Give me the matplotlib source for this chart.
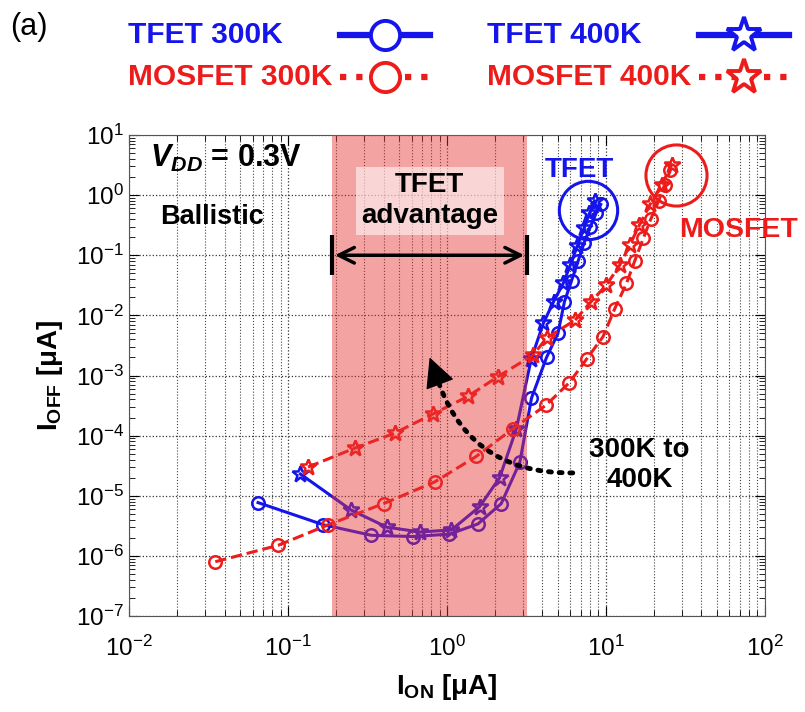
import matplotlib
matplotlib.use('Agg')
import matplotlib.pyplot as plt
from matplotlib.lines import Line2D

# 字体设置：Arial 风格
plt.rcParams['font.family'] = ['Liberation Sans', 'DejaVu Sans']
plt.rcParams['mathtext.fontset'] = 'custom'
plt.rcParams['mathtext.rm'] = 'Liberation Sans'
plt.rcParams['mathtext.it'] = 'Liberation Sans:italic'
plt.rcParams['mathtext.bf'] = 'Liberation Sans:bold'
plt.rcParams['mathtext.bfit'] = 'Liberation Sans:italic:bold'

# 数据 (I_ON [uA], I_OFF [uA])
tfet300_ion = [0.065, 0.167, 0.336, 0.61, 1.04, 1.57, 2.2, 2.88, 3.41, 4.24, 5.0, 5.5,
               6.1, 6.7, 7.3, 8.0, 8.7, 9.3]
tfet300_ioff = [7.7e-6, 3.3e-6, 2.2e-6, 2.1e-6, 2.3e-6, 3.4e-6, 7.4e-6, 3.6e-5, 4.2e-4,
                2.0e-3, 5.0e-3, 1.7e-2, 3.8e-2, 8e-2, 0.16, 0.3, 0.5, 0.7]

tfet400_ion = [0.12, 0.25, 0.42, 0.68, 1.07, 1.61, 2.15, 2.74, 3.4, 4.05, 4.7, 5.4,
               6.0, 6.6, 7.3, 7.9, 8.5]
tfet400_ioff = [2.3e-5, 5.8e-6, 3.0e-6, 2.5e-6, 2.7e-6, 6.6e-6, 2.0e-5, 1.3e-4, 1.9e-3,
                7.4e-3, 1.7e-2, 3.4e-2, 7e-2, 0.14, 0.28, 0.5, 0.8]

mos300_ion = [0.035, 0.087, 0.18, 0.40, 0.84, 1.53, 2.6, 4.2, 5.9, 7.6, 9.6, 11.4,
              13.5, 15.2, 17.2, 19.2, 21.5, 23.5, 25.5]
mos300_ioff = [8e-7, 1.5e-6, 3.3e-6, 7.4e-6, 1.7e-5, 4.5e-5, 1.3e-4, 3.2e-4, 7.6e-4,
               1.9e-3, 4.4e-3, 1.3e-2, 3.4e-2, 8e-2, 0.19, 0.4, 0.8, 1.5, 2.6]

mos400_ion = [0.134, 0.264, 0.47, 0.82, 1.36, 2.1, 3.5, 4.24, 6.4, 8.1, 10.1, 12.3,
              14.2, 16.3, 19.0, 22.5, 26.0]
mos400_ioff = [3.0e-5, 6.2e-5, 1.1e-4, 2.3e-4, 4.5e-4, 9.6e-4, 2.2e-3, 4.2e-3, 8.3e-3,
               1.7e-2, 3.2e-2, 7e-2, 0.15, 0.32, 0.7, 1.5, 3.2]

# TFET 优势区间
adv_lo, adv_hi = 0.19, 3.2

BLUE = '#1414eb'
RED = '#ee1b1b'

fig = plt.figure(figsize=(8.05, 7.12), dpi=100)
ax = fig.add_axes([0.160, 0.1348, 0.790, 0.6756])

lw, ms, mew = 2.2, 9, 1.8
ax.plot(tfet300_ion, tfet300_ioff, '-', color=BLUE, lw=lw, marker='o', ms=ms,
        mfc='none', mew=mew, zorder=3)
ax.plot(tfet400_ion, tfet400_ioff, '-', color=BLUE, lw=lw, marker='*', ms=ms + 3,
        mfc='none', mew=mew, zorder=3)
ax.plot(mos300_ion, mos300_ioff, '--', color=RED, lw=lw, marker='o', ms=ms,
        mfc='none', mew=mew, zorder=3)
ax.plot(mos400_ion, mos400_ioff, '--', color=RED, lw=lw, marker='*', ms=ms + 3,
        mfc='none', mew=mew, zorder=3)

# 粉色区域盖在曲线之上
ax.axvspan(adv_lo, adv_hi, color='#e83434', alpha=0.45, lw=0, zorder=4)

ax.set_xscale('log')
ax.set_yscale('log')
ax.set_xlim(1e-2, 1e2)
ax.set_ylim(1e-7, 1e1)
ax.set_xticks([1e-2, 1e-1, 1e0, 1e1, 1e2])
ax.set_yticks([10.0 ** k for k in range(-7, 2)])
ax.tick_params(which='both', direction='in', top=True, right=True, labelsize=17.5)
ax.tick_params(which='major', length=7)
ax.tick_params(which='minor', length=4)
ax.tick_params(axis='x', which='major', pad=14)
ax.grid(which='major', axis='both', ls=':', lw=0.9, color='#333333')
ax.grid(which='minor', axis='x', ls=':', lw=0.8, color='#444444')
ax.set_axisbelow(True)
for s in ax.spines.values():
    s.set_color('#555555')

ax.set_xlabel(r'I$_{\mathbf{ON}}$ [μA]', fontsize=20, fontweight='bold', labelpad=8)
ax.set_ylabel(r'I$_{\mathbf{OFF}}$ [μA]', fontsize=20, fontweight='bold', labelpad=8)

# 注释文字
ax.text(0.033, 0.952, r'$\mathbfit{V}_{\mathbfit{DD}}$' + ' = 0.3V', transform=ax.transAxes,
        fontsize=22, fontweight='bold', va='center', ha='left', zorder=6)
ax.text(0.049, 0.83, 'Ballistic', transform=ax.transAxes, fontsize=19.5,
        fontweight='bold', va='center', ha='left', zorder=6)
ax.text(0.78, 0.8, 'TFET\nadvantage', fontsize=20, fontweight='bold', ha='center',
        va='center', linespacing=1.25, zorder=6,
        bbox=dict(boxstyle='square,pad=0.2', fc='white', ec='none', alpha=0.55))
ax.text(0.709, 0.927, 'TFET', transform=ax.transAxes, color=BLUE, fontsize=20,
        fontweight='bold', ha='center', va='center', zorder=6)
ax.text(0.866, 0.802, 'MOSFET', transform=ax.transAxes, color=RED, fontsize=20.5,
        fontweight='bold', ha='left', va='center', zorder=6, clip_on=False)
ax.text(0.803, 0.314, '300K to\n400K', transform=ax.transAxes, fontsize=20,
        fontweight='bold', ha='center', va='center', linespacing=1.2, zorder=6)

# 圆圈标注
ax.plot([7.7], [0.565], 'o', ms=42, mfc='none', mec=BLUE, mew=2.2, zorder=6)
ax.plot([27.5], [2.16], 'o', ms=44, mfc='none', mec=RED, mew=2.2, zorder=6)

# 双向箭头
ax.annotate('', xy=(adv_lo, 0.1), xytext=(adv_hi, 0.1),
            arrowprops=dict(arrowstyle='<->', lw=2.5, color='black', mutation_scale=28),
            zorder=6)
ax.vlines([adv_lo, adv_hi], 10 ** -1.33, 10 ** -0.67, colors='black', lw=3, zorder=6)

# 300K -> 400K 点状箭头：点线路径 + 实心箭头
ax.annotate('', xy=(0.84, 1.2e-3), xytext=(6.2, 2.4e-5),
            arrowprops=dict(arrowstyle='-', ls=(0, (0.6, 1.6)), lw=3.5, color='black',
                            connectionstyle='arc3,rad=-0.38', capstyle='round',
                            shrinkA=0, shrinkB=0),
            zorder=6)
ax.annotate('', xy=(0.78, 2.0e-3), xytext=(0.845, 1.15e-3),
            arrowprops=dict(arrowstyle='-|>,head_length=0.8,head_width=0.4',
                            lw=1, color='black', mutation_scale=24,
                            shrinkA=0, shrinkB=0),
            zorder=6)

# 图例（手工排版：文字左对齐，线样本对齐）
legend_items = [
    ('TFET 300K', BLUE, '-', 'o', 0.159, 0.9508),
    ('MOSFET 300K', RED, (0, (1, 1.6)), 'o', 0.159, 0.8919),
    ('TFET 400K', BLUE, '-', '*', 0.605, 0.9508),
    ('MOSFET 400K', RED, (0, (1, 1.6)), '*', 0.605, 0.8919),
]
for label, col, ls, mk, tx, ty in legend_items:
    fig.text(tx, ty, label, color=col, fontsize=21.5, fontweight='bold',
             ha='left', va='center')
    x0 = tx + 0.2634
    fig.add_artist(Line2D([x0, x0 + 0.1118], [ty, ty], transform=fig.transFigure,
                          color=col, lw=4.5, ls=ls))
    fig.add_artist(Line2D([x0 + 0.0559], [ty], transform=fig.transFigure, color=col,
                          marker=mk, ms=21 if mk == 'o' else 26, mfc='white', mew=2.8))

fig.text(0.012, 0.962, '(a)', fontsize=22, va='center', ha='left')

fig.savefig('out.png', dpi=100)
